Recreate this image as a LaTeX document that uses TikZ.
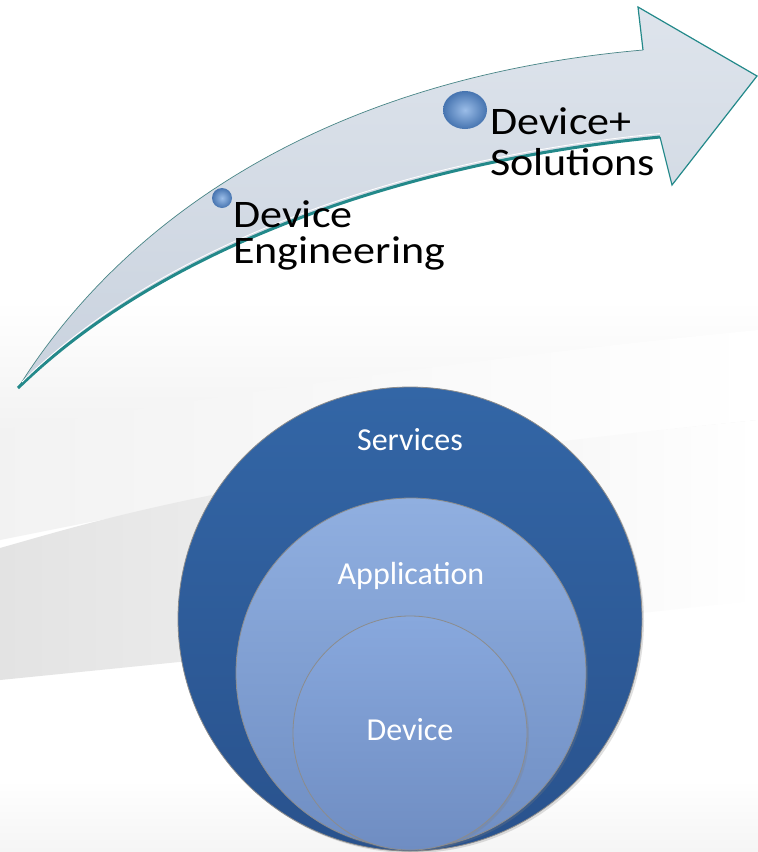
\documentclass[tikz,border=0pt]{standalone}
\usepackage{fontspec}
\setmainfont{Carlito}
\newfontfamily\stagefont[FakeStretch=1.13]{Carlito}
\usetikzlibrary{shadows}
\definecolor{arrowTop}{HTML}{DEE4EC}
\definecolor{arrowBot}{HTML}{C9D2DE}
\definecolor{arrowEdge}{HTML}{23898A}
\definecolor{bubbleIn}{HTML}{9BBDE8}
\definecolor{bubbleOut}{HTML}{4674B0}
\definecolor{outerTop}{HTML}{3366A6}
\definecolor{outerBot}{HTML}{29528D}
\definecolor{midTop}{HTML}{90AFE0}
\definecolor{midBot}{HTML}{6F8EC3}
\definecolor{innTop}{HTML}{88A8DD}
\definecolor{innBot}{HTML}{6F8DC2}

\begin{document}
\begin{tikzpicture}[x=1pt,y=-1pt,
  stage/.style={font={\stagefont\fontsize{39}{39}\selectfont}, text=black, inner sep=0pt, anchor=base west},
  bubble/.style={inner color=bubbleIn, outer color=bubbleOut},
  ring/.style={draw=black!45, line width=0.8pt, drop shadow={opacity=0.25, shadow xshift=2pt, shadow yshift=-2pt}},
  ringlabel/.style={font={\fontsize{32}{32}\selectfont}, text=white, inner sep=0pt, anchor=base}]
% background
\fill[white] (0,0) rectangle (758,852);
\shade[top color=white, bottom color=black!5] (0,300) rectangle (758,430);
\shade[left color=black!5, right color=white] (0,430) .. controls (200,400) and (450,360) .. (758,330) -- (758,420) .. controls (450,450) and (200,500) .. (0,540) -- cycle;
\shade[left color=black!11, right color=white] (0,548) .. controls (100,520) and (250,470) .. (758,420) -- (758,600) .. controls (400,640) and (200,660) .. (0,680) -- cycle;
\shade[top color=white, bottom color=black!4] (0,780) rectangle (758,852);

% curved arrow
\shade[top color=arrowTop, bottom color=arrowBot] (18,388) .. controls (110,240) and (300,80) .. (643,50) -- (638,7) -- (757,76) -- (672,185) -- (660,137) .. controls (420,160) and (170,240) .. (18,388) -- cycle;
\draw[arrowEdge!60!gray, line width=0.7pt] (18,388) .. controls (110,240) and (300,80) .. (643,50);
\draw[arrowEdge, line width=1.2pt] (643,50) -- (638,7) -- (757,76) -- (672,185) -- (660,137);
\draw[arrowEdge, line width=3pt] (660,137) .. controls (420,160) and (170,240) .. (18,388);
\draw[white, line width=0.8pt] (660,133.5) .. controls (420,156.5) and (170,236.5) .. (22,382);

% stages
\shade[bubble] (222,198) circle (10pt);
\shade[bubble] (465,110) ellipse (22pt and 19pt);
\node[stage] (engA) at (233,227) {Device};
\node[stage] (engB) at (233,263) {Engineering};
\node[stage] (solA) at (490,134) {Device+};
\node[stage] (solB) at (490,175) {Solutions};

% nested circles
\path[ring, top color=outerTop, bottom color=outerBot] (410,619) circle (232pt);
\path[ring, top color=midTop, bottom color=midBot] (411,673) circle (175pt);
\path[ring, top color=innTop, bottom color=innBot] (410,733) circle (117pt);
\node[ringlabel] (services) at (410,450) {Services};
\node[ringlabel] (app) at (411,584) {Application};
\node[ringlabel] (dev) at (410,740) {Device};
\end{tikzpicture}
\end{document}
